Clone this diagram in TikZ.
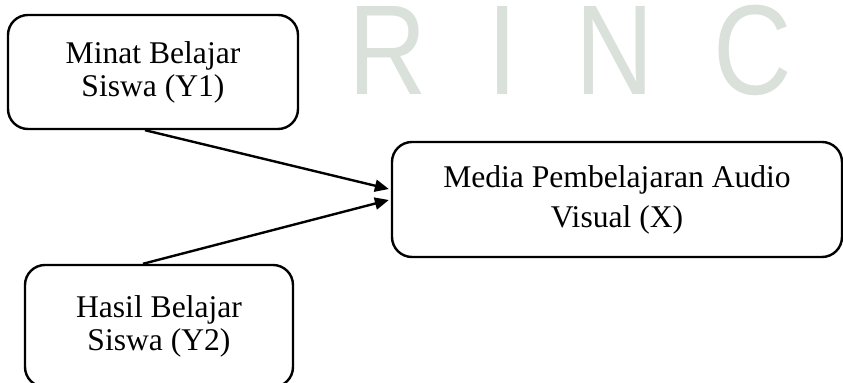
\documentclass[tikz,border=0pt]{standalone}
\usepackage{fontspec}
\setmainfont{Liberation Serif}
\newfontfamily\markfont{Liberation Sans}
\usetikzlibrary{arrows.meta,positioning}
\definecolor{markgray}{RGB}{218,224,218}

\begin{document}
\begin{tikzpicture}[x=0.5pt,y=-0.5pt,shorten >=1pt,
   var/.style={draw,line width=1.2pt,rounded corners=10pt,align=center,
      font=\fontsize{15.8}{16.5}\selectfont},
   wmark/.style={text=markgray,xscale=0.85,inner sep=0pt,
      font=\markfont\fontsize{64}{64}\selectfont}]
   \useasboundingbox (0,0) rectangle (843,383);
%  watermark in the background
   \node[wmark] (wr) at (388,50) {R};
   \node[wmark] (wi) at (503,50) {I};
   \node[wmark] (wn) at (615,50) {N};
   \node[wmark] (wc) at (753,50) {C};
   \node[var,minimum width=145pt,minimum height=57pt] (y1) at (153,72)
      {Minat Belajar\\Siswa (Y1)};
   \node[var,minimum width=134pt,minimum height=61pt] (y2) at (159,326)
      {Hasil Belajar\\Siswa (Y2)};
   \node[var,minimum width=225pt,minimum height=57.5pt,
      font=\fontsize{15.8}{20}\selectfont] (x) at (617,199.5)
      {Media Pembelajaran Audio\\Visual (X)};
   \path[-{Triangle[length=7pt,width=6pt]},line width=1.2pt]
    ([xshift=-4pt]y1.south) edge ([yshift=5pt]x.west)
    ([xshift=-8pt]y2.north) edge (x.west);
\end{tikzpicture}
\end{document}
